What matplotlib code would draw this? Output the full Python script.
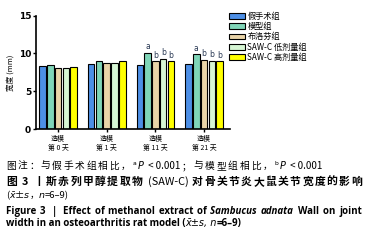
import re
import numpy as np
import matplotlib
matplotlib.use("Agg")
import matplotlib.pyplot as plt
from matplotlib.patches import Patch

plt.rcParams['font.family'] = ['Noto Sans CJK SC', 'DejaVu Sans']

groups = ["造模\n第 0 天", "造模\n第 1 天", "造模\n第 11 天", "造模\n第 21 天"]
series = ["假手术组", "模型组", "布洛芬组", "SAW-C 低剂量组", "SAW-C 高剂量组"]
sham = [8.4, 8.6, 8.5, 8.6]
model = [8.5, 9.0, 10.1, 9.9]
ibuprofen = [8.1, 8.8, 9.0, 9.15]
saw_low = [8.1, 8.7, 9.3, 9.05]
saw_high = [8.2, 9.0, 9.0, 9.0]
marks = [["", "", "", ""], ["", "", "a", "a"], ["", "", "b", "b"],
         ["", "", "b", "b"], ["", "", "b", "b"]]

colors = ["#4d8fe6", "#7fd5b8", "#e9d4a8", "#d6f6d4", "#ffff00"]
values = [sham, model, ibuprofen, saw_low, saw_high]

fig = plt.figure(figsize=(3.8, 2.45), dpi=100)
ax = fig.add_axes([0.095, 0.473, 0.51, 0.463])

x = np.arange(len(groups))
step = 0.16
w = 0.135
for i, (vals, c) in enumerate(zip(values, colors)):
    pos = x + (i - 2) * step
    ax.bar(pos, vals, width=w, color=c, edgecolor="black", linewidth=0.8)
    for p, v, m in zip(pos, vals, marks[i]):
        if m:
            ax.text(p, v + 0.2, m, ha="center", va="bottom", fontsize=5.5,
                    color="#2b3a55", family="DejaVu Sans")

ax.set_xlim(-0.45, 3.53)
ax.set_ylim(0, 15)
ax.set_yticks([0, 5, 10, 15])
ax.set_yticklabels(["0", "5", "10", "15"], fontsize=6.5, fontweight="bold",
                   family="DejaVu Sans")
ax.set_xticks(x)
ax.set_xticklabels(groups, fontsize=5, linespacing=1.3)
ax.tick_params(axis="y", length=2.5, width=1, pad=1)
ax.tick_params(axis="x", length=2.5, width=1, pad=1.5)
ax.spines["top"].set_visible(False)
ax.spines["right"].set_visible(False)
ax.spines["left"].set_linewidth(1.2)
ax.spines["bottom"].set_linewidth(1.2)
ax.set_ylabel("宽度 (mm)", fontsize=5.5, labelpad=2)

handles = [Patch(facecolor=c, edgecolor="black", linewidth=0.8) for c in colors]
fig.legend(handles, series, loc="upper left", bbox_to_anchor=(0.595, 0.965),
           frameon=False, fontsize=5.9, handlelength=1.9, handleheight=0.7,
           handletextpad=0.3, labelspacing=0.15, borderaxespad=0)

fig.canvas.draw()
rend = fig.canvas.get_renderer()


def draw_line(x0, y, runs, size, right=None):
    # runs: (text, split mode, kwargs); spread tokens to reach `right` px
    items = []
    for txt, split, kw in runs:
        if split == "c":
            toks = list(txt)
        elif split == "w":
            toks = re.findall(r"\S+\s*|\s+", txt)
        else:
            toks = [txt]
        for tok in toks:
            t = fig.text(0, 0, tok, fontsize=size, va="baseline", ha="left", **kw)
            items.append((t, t.get_window_extent(renderer=rend).width))
    total = sum(wd for _, wd in items)
    gap = 0 if right is None else (right - x0 - total) / (len(items) - 1)
    cx = x0
    for t, wd in items:
        t.set_position((cx / 380, 1 - y / 245))
        cx += wd + gap


dv = {"family": "DejaVu Sans"}
dvi = {"family": "DejaVu Sans", "style": "italic"}
bold = {"fontweight": "bold"}
en = {"fontweight": "bold", "family": "Open Sans"}
eni = {"fontweight": "bold", "style": "italic", "family": "Open Sans"}

draw_line(6, 169, [("图注：与假手术组相比，", "c", {}), ("ᵃ", "", dv),
                   ("P", "", dvi), (" < 0.001", "", {}),
                   ("；与模型组相比，", "c", {}),
                   ("ᵇ", "", dv), ("P", "", dvi), (" < 0.001", "", {})],
          7, right=322)
draw_line(6, 185, [("图 3 丨斯赤列甲醇提取物 ", "c", bold), ("(SAW-C) ", "", {}),
                   ("对骨关节炎大鼠关节宽度的影响", "c", bold)], 7.8, right=362)
draw_line(6, 198, [("(", "", {}), ("x̄", "", dvi), ("±", "", {}),
                   ("s", "", dvi), ("，", "", {}), ("n", "", dvi),
                   ("=6–9)", "", {})], 6.8)
draw_line(6, 214, [("Figure 3  |  Effect of methanol extract of ", "w", en),
                   ("Sambucus adnata", "w", eni),
                   (" Wall on joint", "w", en)], 7.0, right=362)
draw_line(6, 226, [("width in an osteoarthritis rat model (", "", en),
                   ("x̄±s, n", "", dvi), ("=6–9)", "", en)], 7.0)

fig.savefig("out.png", dpi=100)
